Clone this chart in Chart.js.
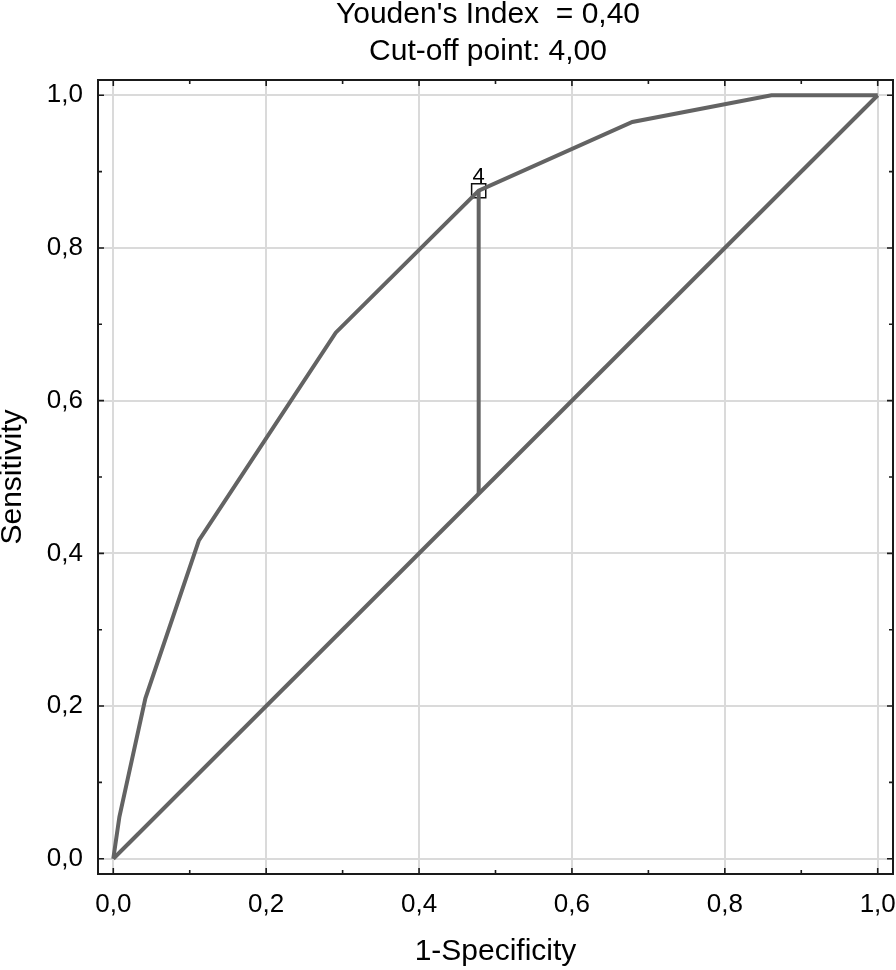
<!DOCTYPE html>
<html>
<head>
<meta charset="utf-8">
<script src="https://cdn.jsdelivr.net/npm/chart.js@4.4.0/dist/chart.umd.min.js"></script>
<style>
  html, body { margin: 0; padding: 0; background: #ffffff; overflow: hidden; }
  #wrap { width: 896px; height: 970px; }
  canvas { display: block; }
</style>
</head>
<body>
<div id="wrap"><canvas id="c" width="896" height="970"></canvas></div>
<script>
// ---- data ----
const titleLines = ["Youden's Index  = 0,40", "Cut-off point: 4,00"];
const xAxisTitle = "1-Specificity";
const yAxisTitle = "Sensitivity";

const rocX = [0, 0.008, 0.042, 0.112, 0.291, 0.478, 0.679, 0.861, 1.0];
const rocY = [0, 0.055, 0.210, 0.417, 0.689, 0.875, 0.965, 1.0, 1.0];

const diagX = [0, 1];
const diagY = [0, 1];

const youdenX = [0.478, 0.478];
const youdenY = [0.478, 0.875];

const cutoffX = [0.478];
const cutoffY = [0.875];
const cutoffLabels = ["4"];

const tickValues = [0, 0.1, 0.2, 0.3, 0.4, 0.5, 0.6, 0.7, 0.8, 0.9, 1.0];
const tickLabels = ["0,0", "", "0,2", "", "0,4", "", "0,6", "", "0,8", "", "1,0"];

// ---- styling ----
const FONT = '"Liberation Sans", Arial, Helvetica, sans-serif';
const LINE = '#636363';
const GRID = '#dadada';
const FRAME = '#1a1a1a';

function isMajor(v) { return Math.round(v * 10) % 2 === 0; }
function pts(xs, ys) { return xs.map((x, i) => ({ x: x, y: ys[i] })); }

Chart.defaults.font.family = FONT;
Chart.defaults.color = '#000';

const framePlugin = {
  id: 'frameTicks',
  afterDatasetsDraw(chart) {
    const { ctx, chartArea: a, scales } = chart;
    ctx.save();
    ctx.strokeStyle = FRAME;
    ctx.lineWidth = 1.6;
    tickValues.forEach(v => {
      const len = isMajor(v) ? 6 : 4;
      const px = scales.x.getPixelForValue(v);
      const py = scales.y.getPixelForValue(v);
      ctx.beginPath();
      ctx.moveTo(px, a.bottom); ctx.lineTo(px, a.bottom - len);
      ctx.moveTo(px, a.top); ctx.lineTo(px, a.top + len);
      ctx.moveTo(a.left, py); ctx.lineTo(a.left + len, py);
      ctx.moveTo(a.right, py); ctx.lineTo(a.right - len, py);
      ctx.stroke();
    });
    ctx.lineWidth = 2;
    ctx.strokeRect(a.left, a.top, a.right - a.left, a.bottom - a.top);
    // cut-off point label
    const meta = chart.getDatasetMeta(3);
    ctx.fillStyle = '#000';
    ctx.font = '22px ' + FONT;
    ctx.textAlign = 'center';
    ctx.textBaseline = 'alphabetic';
    meta.data.forEach((el, i) => {
      ctx.fillText(cutoffLabels[i], el.x, el.y - 8);
    });
    ctx.restore();
  },
  afterDraw(chart) {
    const { ctx } = chart;
    ctx.save();
    ctx.fillStyle = '#000';
    ctx.font = '30px ' + FONT;
    ctx.textAlign = 'center';
    ctx.textBaseline = 'alphabetic';
    ctx.fillText(titleLines[0], 488, 23);
    ctx.fillText(titleLines[1], 488, 60);
    ctx.restore();
  }
};

function axis(isX) {
  return {
    type: 'linear',
    min: -0.02,
    max: 1.02,
    afterBuildTicks(s) { s.ticks = tickValues.map(v => ({ value: v })); },
    afterFit(s) {
      if (isX) { s.height = 96; s.paddingLeft = 0; s.paddingRight = 0; }
      else { s.width = 98; s.paddingTop = 0; s.paddingBottom = 0; }
    },
    ticks: {
      autoSkip: false,
      maxRotation: 0,
      minRotation: 0,
      padding: 15,
      color: '#000',
      font: { size: 26, family: FONT },
      callback: (v, i) => tickLabels[i]
    },
    grid: {
      drawTicks: false,
      lineWidth: 2,
      color: ctx => (ctx.tick && isMajor(ctx.tick.value)) ? GRID : 'rgba(0,0,0,0)'
    },
    border: { display: false },
    title: {
      display: true,
      text: isX ? xAxisTitle : yAxisTitle,
      color: '#000',
      font: { size: 30, family: FONT, lineHeight: 1.2 },
      padding: isX ? { top: 0, bottom: 0 } : { top: -5, bottom: 0 }
    }
  };
}

new Chart(document.getElementById('c'), {
  type: 'scatter',
  data: {
    datasets: [
      { data: pts(diagX, diagY), showLine: true, borderColor: LINE, borderWidth: 4, pointRadius: 0, fill: false },
      { data: pts(rocX, rocY), showLine: true, borderColor: LINE, borderWidth: 4, pointRadius: 0, fill: false },
      { data: pts(youdenX, youdenY), showLine: true, borderColor: LINE, borderWidth: 4, pointRadius: 0, fill: false },
      { data: pts(cutoffX, cutoffY), showLine: false, pointStyle: 'rect', pointRadius: 10, hoverRadius: 10,
        borderColor: '#111', borderWidth: 1.5, backgroundColor: 'rgba(0,0,0,0)', clip: false }
    ]
  },
  options: {
    responsive: false,
    animation: false,
    devicePixelRatio: 1,
    layout: { autoPadding: false, padding: { top: 80, right: 3, left: 0, bottom: 0 } },
    plugins: { legend: { display: false }, title: { display: false }, tooltip: { enabled: false } },
    scales: { x: axis(true), y: axis(false) }
  },
  plugins: [framePlugin]
});
</script>
</body>
</html>
